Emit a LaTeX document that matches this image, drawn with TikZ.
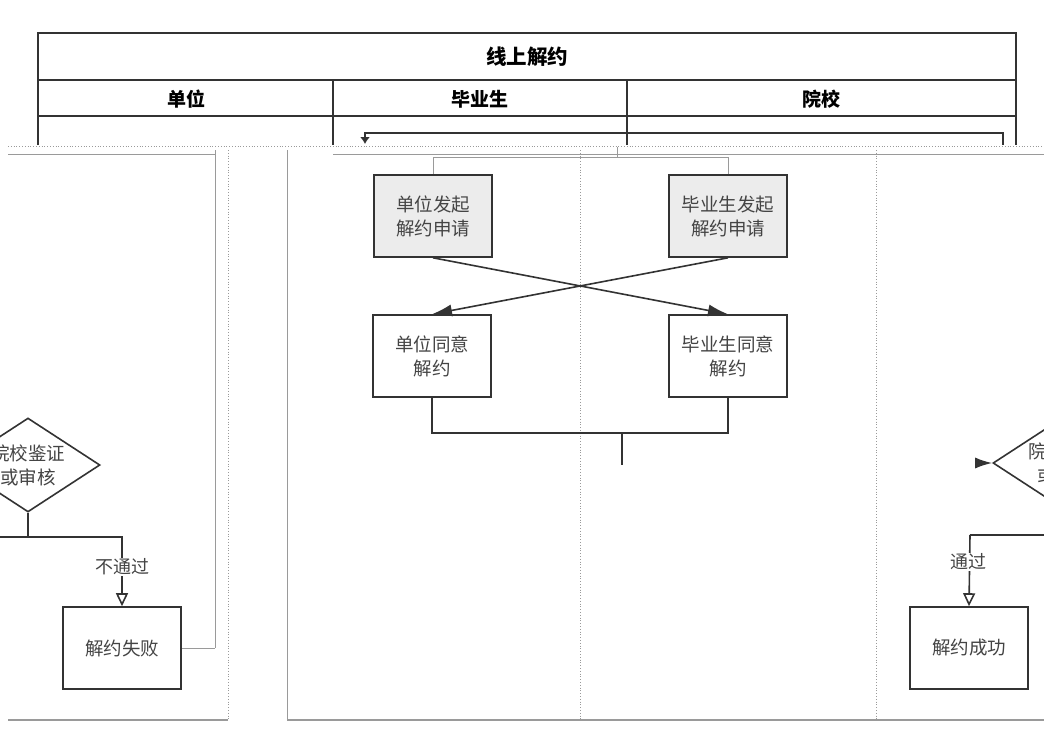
\documentclass[tikz,border=0pt]{standalone}
\usepackage{fontspec}
\setmainfont{Noto Sans CJK SC}
\usetikzlibrary{arrows.meta,shapes.geometric}
\definecolor{ln}{HTML}{333333}
\definecolor{tx}{HTML}{444444}
\definecolor{boxfill}{HTML}{ECECEC}
\definecolor{faint}{HTML}{9A9A9A}
\begin{document}
\begin{tikzpicture}[x=1pt,y=-1pt,
  tbl/.style={draw=ln,line width=2pt},
  hdr/.style={font=\bfseries\fontsize{19}{22}\selectfont,text=black},
  ttl/.style={font=\bfseries\fontsize{20.5}{24}\selectfont,text=black},
  stepbox/.style={draw=ln,line width=1.6pt,minimum width=118pt,minimum height=82pt,inner sep=0pt,align=center,text=tx,font=\fontsize{18.5}{24}\selectfont},
  graybox/.style={stepbox,fill=boxfill},
  dec/.style={diamond,draw=ln,line width=1.6pt,minimum width=144pt,minimum height=94pt,inner sep=0pt},
  dectext/.style={align=center,text=tx,font=\fontsize{18.5}{24}\selectfont},
  lbl/.style={fill=white,inner sep=1pt,text=tx,font=\fontsize{18}{20}\selectfont},
  conn/.style={draw=ln,line width=1.6pt},
  thinconn/.style={draw=faint,line width=1pt},
  arr/.style={conn,-{Latex[length=20pt,width=12pt]}},
  openarr/.style={conn,-{Triangle[open,length=13pt,width=12pt,fill=white]}},
  lane/.style={draw=faint,line width=0.8pt,dotted},
  laneline/.style={draw=faint,line width=0.8pt}]
\useasboundingbox (0,0) rectangle (1044,744);
\clip (0,0) rectangle (1044,744);
\fill[white] (0,0) rectangle (1044,744);

% ---- table header ----
\draw[tbl] (38,145) -- (38,33) -- (1016,33) -- (1016,145);
\draw[tbl] (38,80) -- (1016,80);
\draw[tbl] (38,116) -- (1016,116);
\draw[tbl] (333,80) -- (333,145);
\draw[tbl] (627,80) -- (627,145);
\node[ttl] (title) at (527,57) {线上解约};
\node[hdr] (h1) at (186,99) {单位};
\node[hdr] (h2) at (480,99) {毕业生};
\node[hdr] (h3) at (821,99) {院校};

% ---- glitch rows ----
\draw[lane] (8,146) -- (1044,146);
\draw[laneline] (8,154) -- (215,154);
\draw[laneline] (333,154) -- (1044,154);

% ---- lane lines (lower layer) ----
\draw[laneline] (215,150) -- (215,648) coordinate (u1);
\draw[lane] (228,150) -- (228,720);
\draw[laneline] (287,150) -- (287,720);
\draw[lane] (580,150) -- (580,720);
\draw[lane] (876,150) -- (876,720);
\draw[faint,line width=2pt] (8,720) -- (228,720);
\draw[faint,line width=2pt] (287,720) -- (1044,720);

% ---- nodes ----
\node[graybox] (b1) at (433,216) {单位发起\\解约申请};
\node[graybox] (b2) at (728,216) {毕业生发起\\解约申请};
\node[stepbox] (a1) at (432,356) {单位同意\\解约};
\node[stepbox] (a2) at (728,356) {毕业生同意\\解约};
\node[dec] (d1) at (28,465) {};
\node[dectext] (d1t) at (d1) {院校鉴证\\或审核};
\node[dec] (d2) at (1065,463) {};
\node[dectext] (d2t) at (d2) {院校鉴证\\或审核};
\node[stepbox] (fail) at (122,648) {解约失败};
\node[stepbox] (succ) at (969,648) {解约成功};

% ---- top connector ----
\coordinate (c1) at (1003,145);
\coordinate (c3) at (365,133);
\coordinate (c4) at (365,144);
\draw[conn,-{Latex[length=7pt,width=10pt]}] (c1) |- (c3) -- (c4);

% ---- fork to requests ----
\coordinate (f0) at (617,147);
\coordinate (f1) at (617,157);
\draw[thinconn] (f0) -- (f1) -| (b1.north);
\draw[thinconn] (f1) -| (b2.north);

% ---- crossing arrows ----
\draw[arr] (b1.south) -- (a2.north);
\draw[arr] (b2.south) -- (a1.north);

% ---- merge ----
\coordinate (m) at (622,433);
\coordinate (m2) at (622,465);
\draw[conn] (a1.south) |- (m);
\draw[conn] (a2.south) |- (m);
\draw[conn] (m) -- (m2);

% ---- left decision ----
\coordinate (j1) at (28,537);
\coordinate (jl) at (0,537);
\draw[conn] (d1.south) -- (j1) -- (jl);
\draw[openarr] (j1) -| (fail.north);
\node[lbl] (l1) at (122,567) {不通过};
\draw[thinconn] (fail.east) -- (u1);

% ---- right decision ----
\coordinate (r0) at (975,463);
\draw[conn,-{Latex[length=17pt,width=11pt]}] (r0) -- (d2.west);
\coordinate (j2) at (970,535);
\draw[conn] (d2.south) |- (j2);
\draw[openarr] (j2) -- (succ.north);
\node[lbl] (l2) at (968,562) {通过};
\end{tikzpicture}
\end{document}
